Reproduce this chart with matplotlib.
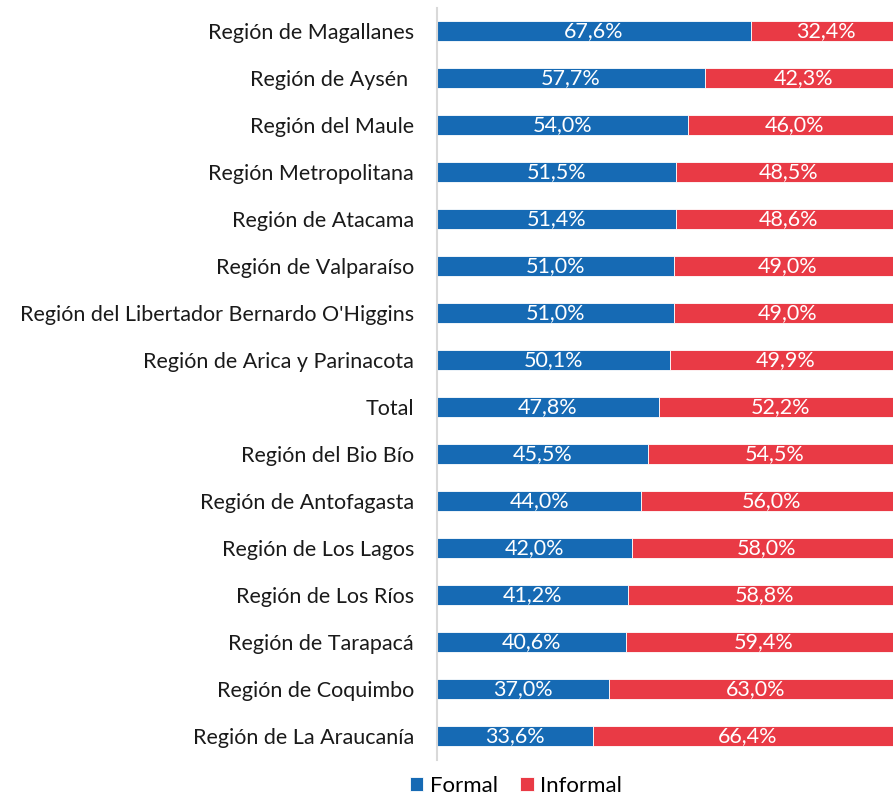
import matplotlib.pyplot as plt
import numpy as np

# ---------- Datos ----------
regiones = [
    "Región de Magallanes",
    "Región de Aysén ",
    "Región del Maule",
    "Región Metropolitana",
    "Región de Atacama",
    "Región de Valparaíso",
    "Región del Libertador Bernardo O'Higgins",
    "Región de Arica y Parinacota",
    "Total",
    "Región del Bio Bío",
    "Región de Antofagasta",
    "Región de Los Lagos",
    "Región de Los Ríos",
    "Región de Tarapacá",
    "Región de Coquimbo",
    "Región de La Araucanía",
]
formal = [67.6, 57.7, 54.0, 51.5, 51.4, 51.0, 51.0, 50.1, 47.8, 45.5, 44.0, 42.0, 41.2, 40.6, 37.0, 33.6]
informal = [32.4, 42.3, 46.0, 48.5, 48.6, 49.0, 49.0, 49.9, 52.2, 54.5, 56.0, 58.0, 58.8, 59.4, 63.0, 66.4]

azul = "#166AB4"
rojo = "#E93A45"

plt.rcParams["font.family"] = ["Lato", "DejaVu Sans"]

fig = plt.figure(figsize=(8.93, 7.99), dpi=100)
# el eje se sale un poco por la derecha, como en el original
ax = fig.add_axes([437 / 893, 0.0494, 464.5 / 893, 0.9412])

y = np.arange(len(regiones))
b1 = ax.barh(y, formal, height=0.42, color=azul, edgecolor="white", linewidth=0.6, label="Formal")
b2 = ax.barh(y, informal, left=formal, height=0.42, color=rojo, edgecolor="white", linewidth=0.6, label="Informal")

def fmt(v):
    return f"{v:.1f}%".replace(".", ",")

for barras, vals in ((b1, formal), (b2, informal)):
    for bar, v in zip(barras, vals):
        ax.text(bar.get_x() + bar.get_width() / 2, bar.get_y() + bar.get_height() / 2,
                fmt(v), ha="center", va="center", color="white", fontsize=15.5)

ax.set_xlim(0, 100)
ax.set_ylim(len(regiones) - 0.5, -0.5)
ax.set_yticks(y)
ax.set_yticklabels(regiones, fontsize=15.5, color="#1a1a1a")
ax.tick_params(axis="y", length=0, pad=16.5)
ax.set_xticks([])
for s in ("top", "right", "bottom"):
    ax.spines[s].set_visible(False)
ax.spines["left"].set_color("#D9D9D9")
ax.spines["left"].set_linewidth(1.5)

fig.legend(handles=[b1, b2], loc="center", bbox_to_anchor=(516 / 893, 0.016), ncol=2,
           frameon=False, fontsize=16, handlelength=0.6, handleheight=0.6,
           handletextpad=0.3, columnspacing=1.0)

fig.savefig("out.png", dpi=100)
